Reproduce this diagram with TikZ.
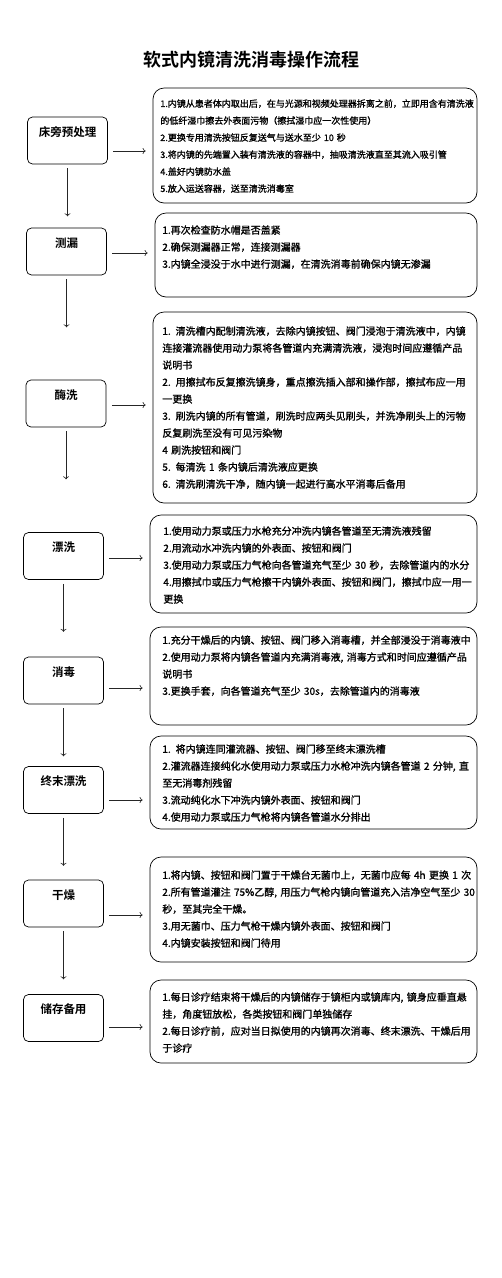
\documentclass[tikz,border=0pt]{standalone}
\usepackage{fontspec}
\setmainfont{Noto Sans CJK SC}[BoldFont={Noto Sans CJK SC Bold}]
\newfontfamily\notefont{Noto Sans CJK SC}[FakeBold=1.2]
\usetikzlibrary{arrows.meta}

\begin{document}
\begin{tikzpicture}[x=1pt,y=-1pt,>={To[length=3pt,width=6pt]},line width=0.7pt]
  \tikzstyle{stage}=[draw,rounded corners=5pt,minimum width=80pt,inner sep=0pt,
                     text height=19pt,text depth=28pt,font=\fontsize{11.5}{12}\selectfont\bfseries]
  \tikzstyle{detail}=[draw,rounded corners=11pt]
  \tikzstyle{note}=[anchor=north west,inner sep=0pt,align=left,text width=318pt,
                    font=\notefont\fontsize{10}{17}\selectfont]
  \tikzstyle{flow}=[->,draw=black!85,line width=0.6pt]

  \useasboundingbox (0,0) rectangle (502,1278);

  \node[font=\fontsize{18}{20}\selectfont\bfseries] (title) at (251,60) {软式内镜清洗消毒操作流程};

  % left column
  \node[stage] (l1) at (67.5,140.5) {床旁预处理};
  \node[stage] (l2) at (66.5,251.5) {测漏};
  \node[stage] (l3) at (66,403.5)   {酶洗};
  \node[stage] (l4) at (63.5,556)   {漂洗};
  \node[stage] (l5) at (63.5,680.5) {消毒};
  \node[stage] (l6) at (63.5,790)   {终末漂洗};
  \node[stage] (l7) at (63.5,903.5) {干燥};
  \node[stage] (l8) at (63.5,1018)  {储存备用};

  % right column
  \node[detail,minimum width=324pt,minimum height=115pt] (r1) at (315,145.5) {};
  \node[detail,minimum width=322pt,minimum height=84pt]  (r2) at (316,255)   {};
  \node[detail,minimum width=324pt,minimum height=191pt] (r3) at (315,407.5) {};
  \node[detail,minimum width=327pt,minimum height=98pt]  (r4) at (313.5,564) {};
  \node[detail,minimum width=327pt,minimum height=98pt]  (r5) at (313.5,676) {};
  \node[detail,minimum width=327pt,minimum height=93pt]  (r6) at (313.5,782.5) {};
  \node[detail,minimum width=327pt,minimum height=105pt] (r7) at (313.5,909.5) {};
  \node[detail,minimum width=327pt,minimum height=83pt]  (r8) at (313.5,1021.5) {};

  \node[note,font=\notefont\fontsize{9}{17}\selectfont] (t1) at (160,99) {%
    1.内镜从患者体内取出后，在与光源和视频处理器拆离之前，立即用含有清洗液\\
    的低纤湿巾擦去外表面污物（擦拭湿巾应一次性使用）\\
    2.更换专用清洗按钮反复送气与送水至少 10 秒\\
    3.将内镜的先端置入装有清洗液的容器中，抽吸清洗液直至其流入吸引管\\
    4.盖好内镜防水盖\\
    5.放入运送容器，送至清洗消毒室};
  \node[note] (t2) at (162,225) {%
    1.再次检查防水帽是否盖紧\\
    2.确保测漏器正常，连接测漏器\\
    3.内镜全浸没于水中进行测漏，在清洗消毒前确保内镜无渗漏};
  \node[note] (t3) at (162,326) {%
    1. 清洗槽内配制清洗液，去除内镜按钮、阀门浸泡于清洗液中，内镜\\
    连接灌流器使用动力泵将各管道内充满清洗液，浸泡时间应遵循产品\\
    说明书\\
    2. 用擦拭布反复擦洗镜身，重点擦洗插入部和操作部，擦拭布应一用\\
    一更换\\
    3. 刷洗内镜的所有管道，刷洗时应两头见刷头，并洗净刷头上的污物\\
    反复刷洗至没有可见污染物\\
    4 刷洗按钮和阀门\\
    5. 每清洗 1 条内镜后清洗液应更换\\
    6. 清洗刷清洗干净，随内镜一起进行高水平消毒后备用};
  \node[note] (t4) at (163,526) {%
    1.使用动力泵或压力水枪充分冲洗内镜各管道至无清洗液残留\\
    2.用流动水冲洗内镜的外表面、按钮和阀门\\
    3.使用动力泵或压力气枪向各管道充气至少 30 秒，去除管道内的水分\\
    4.用擦拭巾或压力气枪擦干内镜外表面、按钮和阀门，擦拭巾应一用一\\
    更换};
  \node[note] (t5) at (162,635) {%
    1.充分干燥后的内镜、按钮、阀门移入消毒槽，并全部浸没于消毒液中\\
    2.使用动力泵将内镜各管道内充满消毒液, 消毒方式和时间应遵循产品\\
    说明书\\
    3.更换手套，向各管道充气至少 30s，去除管道内的消毒液};
  \node[note] (t6) at (162,744) {%
    1. 将内镜连同灌流器、按钮、阀门移至终末漂洗槽\\
    2.灌流器连接纯化水使用动力泵或压力水枪冲洗内镜各管道 2 分钟, 直\\
    至无消毒剂残留\\
    3.流动纯化水下冲洗内镜外表面、按钮和阀门\\
    4.使用动力泵或压力气枪将内镜各管道水分排出};
  \node[note] (t7) at (162,870) {%
    1.将内镜、按钮和阀门置于干燥台无菌巾上，无菌巾应每 4h 更换 1 次\\
    2.所有管道灌注 75\%乙醇, 用压力气枪内镜向管道充入洁净空气至少 30\\
    秒，至其完全干燥。\\
    3.用无菌巾、压力气枪干燥内镜外表面、按钮和阀门\\
    4.内镜安装按钮和阀门待用};
  \node[note] (t8) at (162,992) {%
    1.每日诊疗结束将干燥后的内镜储存于镜柜内或镜库内, 镜身应垂直悬\\
    挂，角度钮放松，各类按钮和阀门单独储存\\
    2.每日诊疗前，应对当日拟使用的内镜再次消毒、终末漂洗、干燥后用\\
    于诊疗};

  % downward arrows
  \foreach \i in {1,...,7}
    \draw[flow,shorten <=4pt] (l\i.south) -- ++(0,-52pt);

  % arrows to the detail boxes
  \coordinate (s1) at ([yshift=-10.5pt]l1.east);
  \coordinate (s2) at ([yshift=-1.5pt]l2.east);
  \coordinate (s3) at ([yshift=-1.5pt]l3.east);
  \coordinate (s4) at ([yshift=-2pt]l4.east);
  \coordinate (s5) at ([yshift=-7.5pt]l5.east);
  \coordinate (s6) at ([yshift=-10pt]l6.east);
  \coordinate (s7) at ([yshift=-11.5pt]l7.east);
  \coordinate (s8) at ([yshift=-9pt]l8.east);
  \foreach \i in {1,...,8}
    \draw[flow,shorten <=5.5pt,shorten >=7pt] (s\i) -- (s\i -| r\i.west);
\end{tikzpicture}
\end{document}
